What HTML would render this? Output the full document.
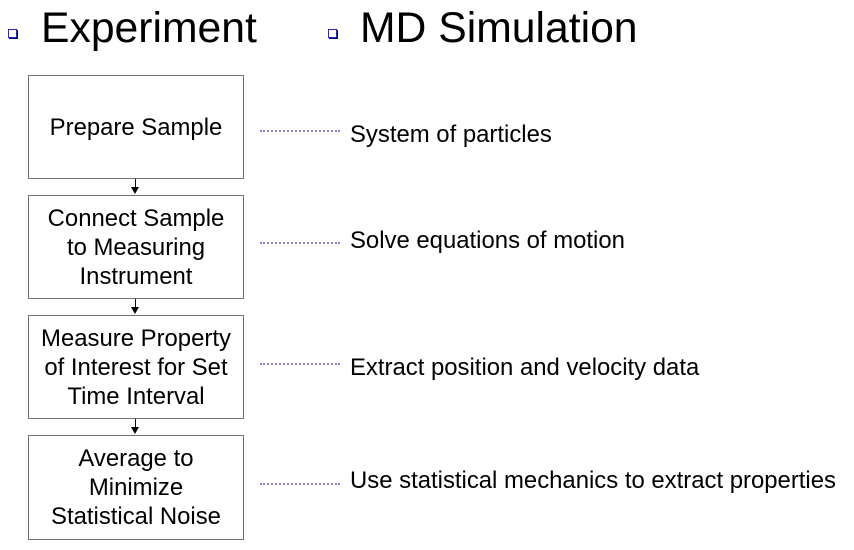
<!DOCTYPE html>
<html><head><style>
body{margin:0;width:854px;height:550px;background:#fff;position:relative;font-family:"Liberation Sans",sans-serif;overflow:hidden}
.h{position:absolute;font-size:42.7px;color:#000;top:5px;line-height:46px}
.b{position:absolute;width:7px;height:7px;border:1px solid #2a2aa0;box-shadow:1px 1px 0 #000080;background:#fff}
.box{position:absolute;left:28px;width:214px;border:1.5px solid #707070;display:flex;align-items:center;justify-content:center;text-align:center;font-size:23.9px;line-height:29px;color:#000;white-space:nowrap}
.d{position:absolute;left:260px;width:80px;border-top:2px dotted #8a8ad0}
.t{position:absolute;left:350px;font-size:23.9px;color:#000;line-height:26px;white-space:nowrap}
.a{position:absolute;left:135px;width:1px;background:#000}
.ah{position:absolute;left:131px;width:0;height:0;border-left:4.5px solid transparent;border-right:4.5px solid transparent;border-top:7px solid #000}
</style></head><body>
<div class="b" style="left:8px;top:29px"></div>
<div class="h" style="left:41px">Experiment</div>
<div class="b" style="left:328px;top:29px"></div>
<div class="h" style="left:360px">MD Simulation</div>

<div class="box" style="top:75px;height:102px">Prepare Sample</div>
<div class="box" style="top:195px;height:102px">Connect Sample<br>to Measuring<br>Instrument</div>
<div class="box" style="top:315px;height:102px">Measure Property<br>of Interest for Set<br>Time Interval</div>
<div class="box" style="top:435px;height:103px">Average to<br>Minimize<br>Statistical Noise</div>

<div class="a" style="top:179px;height:10px"></div><div class="ah" style="top:187px"></div>
<div class="a" style="top:299px;height:10px"></div><div class="ah" style="top:307px"></div>
<div class="a" style="top:419px;height:10px"></div><div class="ah" style="top:427px"></div>

<div class="d" style="top:130px"></div><div class="t" style="top:122px">System of particles</div>
<div class="d" style="top:242px"></div><div class="t" style="top:228px">Solve equations of motion</div>
<div class="d" style="top:363px"></div><div class="t" style="top:355px">Extract position and velocity data</div>
<div class="d" style="top:483px"></div><div class="t" style="top:468px">Use statistical mechanics to extract properties</div>
</body></html>
